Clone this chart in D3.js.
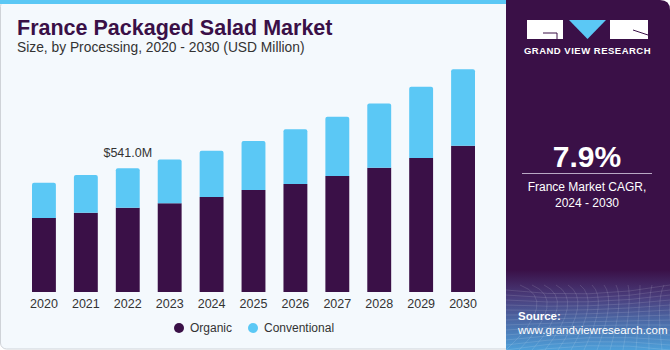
<!DOCTYPE html>
<html>
<head>
<meta charset="utf-8">
<script src="https://cdn.jsdelivr.net/npm/d3@7"></script>
<style>
  body { margin: 0; background: #fff; }
  text { font-family: "Liberation Sans", Arial, sans-serif; }
</style>
</head>
<body>
<div id="chart"></div>
<script>
var years = ["2020", "2021", "2022", "2023", "2024", "2025", "2026", "2027", "2028", "2029", "2030"];
var organic = [324, 347, 369, 388, 416, 446, 472, 507, 544, 586, 640];
var conventional = [154, 165, 172, 192, 202, 214, 240, 260, 281, 312, 334];
var seriesNames = ["Organic", "Conventional"];
var labelYear = "2022", labelText = "$541.0M";

(function() {
  var W = 670, H = 350;
  var colors = { Organic: "#3a1047", Conventional: "#5bc8f5" };

  var svg = d3.select("#chart").append("svg")
      .attr("width", W)
      .attr("height", H);

  // left panel
  svg.append("rect")
      .attr("x", 0.5).attr("y", 0.5)
      .attr("width", 520).attr("height", H - 1.5)
      .attr("rx", 6)
      .attr("fill", "#f4f9fd")
      .attr("stroke", "#cfd3d8");
  svg.append("rect")
      .attr("x", 0).attr("y", 0)
      .attr("width", 506).attr("height", 4)
      .attr("fill", "#5bc8f5");

  // right panel
  var defs = svg.append("defs");
  var grad = defs.append("linearGradient")
      .attr("id", "srcgrad")
      .attr("x1", 0).attr("y1", 0).attr("x2", 0).attr("y2", 1);
  grad.append("stop").attr("offset", "0%").attr("stop-color", "#3a1047");
  grad.append("stop").attr("offset", "35%").attr("stop-color", "#4a3f7e");
  grad.append("stop").attr("offset", "100%").attr("stop-color", "#4d9fd9");

  svg.append("path")
      .attr("d", "M506,0 H660 Q670,0 670,10 V350 H506 Z")
      .attr("fill", "#3a1047");
  svg.append("rect")
      .attr("x", 506).attr("y", 270)
      .attr("width", 164).attr("height", 80)
      .attr("fill", "url(#srcgrad)");

  // faint grid texture in the source area
  var tex = svg.append("g").attr("stroke", "#ffffff").attr("stroke-opacity", 0.12).attr("fill", "none");
  d3.range(0, 14).forEach(function(i) {
    tex.append("path").attr("d", "M" + (506 + i * 13) + ",350 Q" + (560 + i * 8) + ",300 " + (520 + i * 12) + ",285");
    tex.append("path").attr("d", "M506," + (290 + i * 5) + " Q590," + (300 + i * 3) + " 670," + (285 + i * 5));
  });

  // logo
  var logo = svg.append("g");
  logo.append("rect").attr("x", 527).attr("y", 20).attr("width", 36).attr("height", 19).attr("fill", "#fff");
  logo.append("path").attr("d", "M543,33 H557 V39").attr("stroke", "#3a1047").attr("stroke-width", 1).attr("fill", "none");
  logo.append("path").attr("d", "M569,20 H606 L587.5,39 Z").attr("fill", "#5bc8f5");
  logo.append("rect").attr("x", 610).attr("y", 20).attr("width", 38).attr("height", 19).attr("fill", "#fff");
  logo.append("path").attr("d", "M633,30 L648,35").attr("stroke", "#3a1047").attr("stroke-width", 1);
  logo.append("text")
      .attr("x", 587.5).attr("y", 54)
      .attr("text-anchor", "middle")
      .attr("font-size", "9.5px")
      .attr("font-weight", "bold")
      .attr("letter-spacing", "0.5px")
      .attr("fill", "#fff")
      .text("GRAND VIEW RESEARCH");

  // CAGR
  svg.append("text")
      .attr("x", 587).attr("y", 167)
      .attr("text-anchor", "middle")
      .attr("font-size", "30px")
      .attr("font-weight", "bold")
      .attr("fill", "#fff")
      .text("7.9%");
  svg.append("line")
      .attr("x1", 522).attr("x2", 652)
      .attr("y1", 173.5).attr("y2", 173.5)
      .attr("stroke", "#b9a9c4");
  svg.append("text")
      .attr("x", 587).attr("y", 191)
      .attr("text-anchor", "middle")
      .attr("font-size", "12px")
      .attr("fill", "#fff")
      .text("France Market CAGR,");
  svg.append("text")
      .attr("x", 587).attr("y", 207)
      .attr("text-anchor", "middle")
      .attr("font-size", "12px")
      .attr("fill", "#fff")
      .text("2024 - 2030");

  // source
  svg.append("text")
      .attr("x", 518).attr("y", 320)
      .attr("font-size", "11.5px")
      .attr("font-weight", "bold")
      .attr("fill", "#fff")
      .text("Source:");
  svg.append("text")
      .attr("x", 518).attr("y", 334)
      .attr("font-size", "11.5px")
      .attr("fill", "#fff")
      .text("www.grandviewresearch.com");

  // titles
  svg.append("text")
      .attr("x", 17).attr("y", 35)
      .attr("font-size", "21.5px")
      .attr("font-weight", "900")
      .attr("font-family", "Roboto, sans-serif")
      .attr("fill", "#3a1047")
      .text("France Packaged Salad Market");
  svg.append("text")
      .attr("x", 17).attr("y", 52)
      .attr("font-size", "13.8px")
      .attr("fill", "#333")
      .text("Size, by Processing, 2020 - 2030 (USD Million)");

  // bars
  var data = years.map(function(y, i) {
    return { year: y, Organic: organic[i], Conventional: conventional[i] };
  });
  var stack = d3.stack().keys(seriesNames)(data);

  var x = d3.scaleBand()
      .domain(years)
      .range([32, 475])
      .paddingInner(0.43)
      .paddingOuter(0);

  var y = d3.scaleLinear()
      .domain([0, 1000])
      .range([292, 63.4]);

  var g = svg.append("g");
  g.selectAll("g.layer")
    .data(stack)
    .join("g")
      .attr("class", "layer")
      .attr("fill", function(d) { return colors[d.key]; })
    .selectAll("path")
    .data(function(d) { return d.map(function(p) { return { p: p, key: d.key }; }); })
    .join("path")
      .attr("d", function(d) {
        var x0 = x(d.p.data.year), w = x.bandwidth();
        var y0 = y(d.p[0]), y1 = y(d.p[1]);
        if (d.key === "Conventional") {
          var r = 2;
          return "M" + x0 + "," + y0 + " V" + (y1 + r) + " Q" + x0 + "," + y1 + " " + (x0 + r) + "," + y1 +
            " H" + (x0 + w - r) + " Q" + (x0 + w) + "," + y1 + " " + (x0 + w) + "," + (y1 + r) + " V" + y0 + " Z";
        }
        return "M" + x0 + "," + y0 + " V" + y1 + " H" + (x0 + w) + " V" + y0 + " Z";
      });

  var xAxis = d3.axisBottom(x).tickSize(0).tickPadding(7);
  svg.append("g")
      .attr("transform", "translate(0,292)")
      .call(xAxis)
      .call(function(ax) { ax.select(".domain").remove(); })
      .selectAll("text")
        .attr("font-size", "12.5px")
        .attr("font-family", "Liberation Sans, Arial, sans-serif")
        .attr("fill", "#333");

  var li = years.indexOf(labelYear);
  svg.append("text")
      .attr("x", x(labelYear) + x.bandwidth() / 2)
      .attr("y", y(organic[li] + conventional[li]) - 11)
      .attr("text-anchor", "middle")
      .attr("font-size", "12.5px")
      .attr("fill", "#333")
      .text(labelText);

  // legend
  var legend = svg.append("g");
  var lx = [179, 253];
  seriesNames.forEach(function(n, i) {
    legend.append("circle")
        .attr("cx", lx[i]).attr("cy", 328)
        .attr("r", 5)
        .attr("fill", colors[n]);
    legend.append("text")
        .attr("x", lx[i] + 11).attr("y", 332)
        .attr("font-size", "12px")
        .attr("fill", "#333")
        .text(n);
  });
})();
</script>
</body>
</html>
